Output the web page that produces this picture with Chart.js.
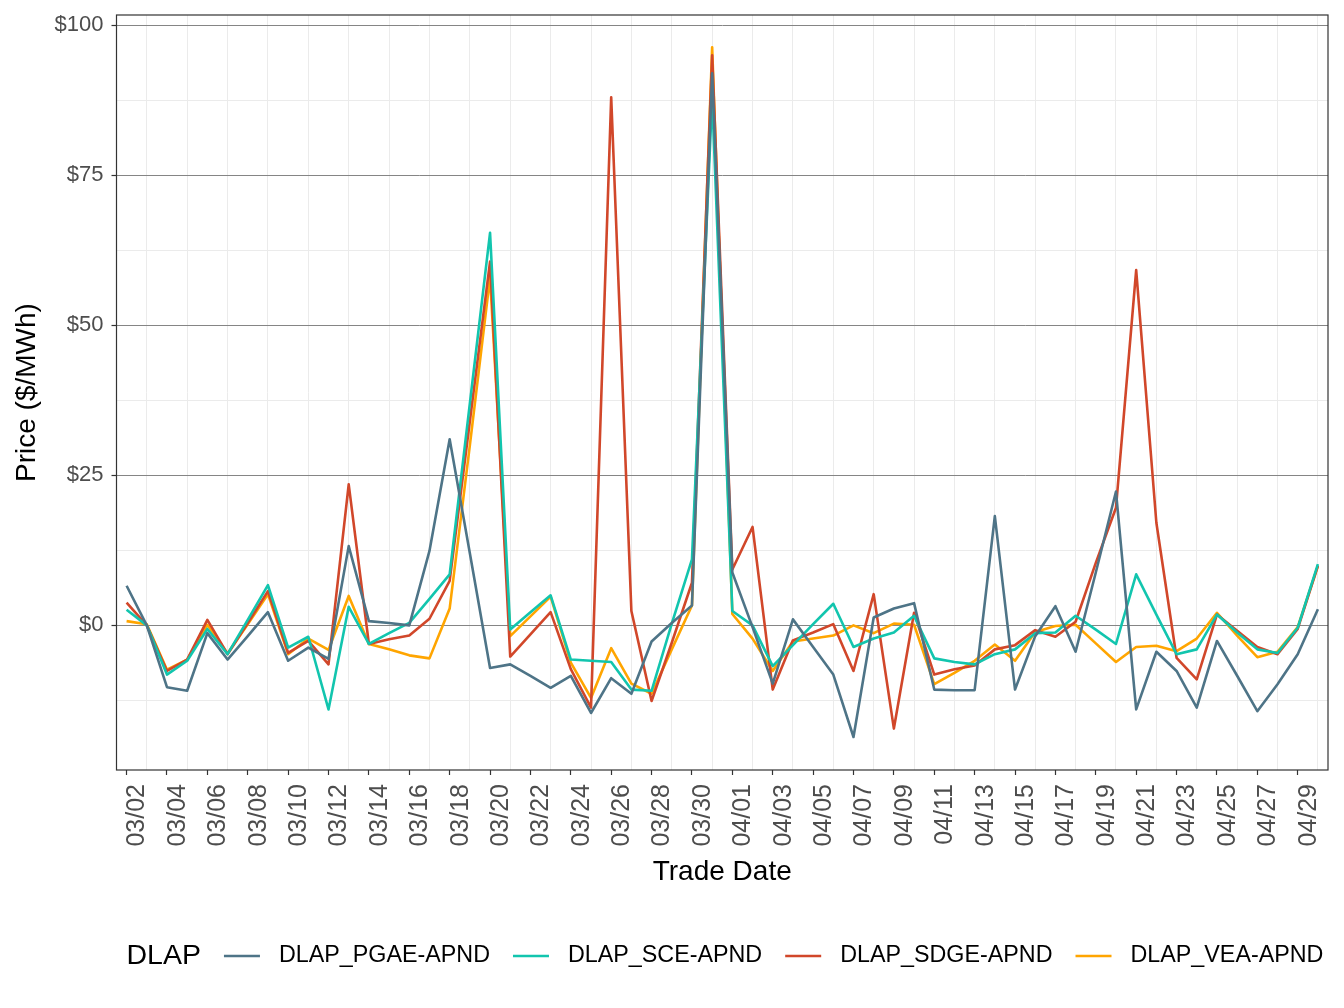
<!DOCTYPE html>
<html><head><meta charset="utf-8">
<script src="https://cdn.jsdelivr.net/npm/chart.js@4.4.1/dist/chart.umd.min.js"></script>
<style>html,body{margin:0;padding:0;background:#fff;}#wrap{width:1344px;height:1008px;}</style>
</head><body><div id="wrap"><canvas id="c" width="1344" height="1008"></canvas></div>
<script>
const dates = ['03/02','03/03','03/04','03/05','03/06','03/07','03/08','03/09','03/10','03/11','03/12','03/13','03/14','03/15','03/16','03/17','03/18','03/19','03/20','03/21','03/22','03/23','03/24','03/25','03/26','03/27','03/28','03/29','03/30','03/31',
'04/01','04/02','04/03','04/04','04/05','04/06','04/07','04/08','04/09','04/10','04/11','04/12','04/13','04/14','04/15','04/16','04/17','04/18','04/19','04/20','04/21','04/22','04/23','04/24','04/25','04/26','04/27','04/28','04/29','04/30'];
const seriesNames = ['DLAP_PGAE-APND','DLAP_SCE-APND','DLAP_SDGE-APND','DLAP_VEA-APND'];
const pgae = [6.6,0,-10.3,-10.9,-1.3,-5.7,-1.8,2.2,-5.9,-3.7,-5.6,13.2,0.7,0.4,0,12.4,31,12,-7.1,-6.5,-8.4,-10.4,-8.4,-14.6,-8.8,-11.4,-2.7,0.4,3.3,92,
8.8,-0.3,-9.7,1.0,-3.6,-8.2,-18.6,1.3,2.8,3.7,-10.7,-10.8,-10.8,18.2,-10.7,-1.8,3.2,-4.4,8.8,22.3,-14,-4.4,-7.6,-13.7,-2.6,-8.4,-14.3,-9.8,-4.8,2.7];
const sce = [2.6,0,-8.2,-5.9,-0.6,-4.8,0.9,6.7,-3.7,-1.9,-14,3.1,-3.1,-1.3,0.4,4.4,8.5,37,65.4,-0.7,2.2,5.0,-5.7,-5.9,-6.1,-10.7,-10.9,0.3,11,88,
2.4,0,-6.8,-3.3,0.2,3.6,-3.6,-2.2,-1.2,1.6,-5.5,-6.1,-6.5,-4.8,-4.0,-1.3,-1.2,1.6,-0.7,-3.1,8.5,1.8,-4.8,-4.0,1.8,-1.2,-4.0,-4.6,-0.4,10.2];
const sdge = [3.8,0,-7.6,-5.7,0.9,-4.8,0.4,5.7,-4.6,-2.6,-6.5,23.5,-3.1,-2.3,-1.7,1.1,7.4,34,60.6,-5.2,-1.5,2.2,-7.3,-13.7,88,2.4,-12.6,-2.9,7.1,95,
9.3,16.4,-10.7,-2.5,-1.2,0.2,-7.6,5.2,-17.2,2.1,-8.2,-7.3,-6.7,-4.0,-3.3,-0.8,-1.9,0.6,10.4,19.6,59.2,17.1,-5.4,-9.0,1.8,-0.9,-3.6,-4.8,-0.6,9.9];
const vea = [0.7,0.2,-7.4,-5.7,0.1,-4.7,0.2,5.2,-4.8,-2.2,-4.1,4.9,-3.1,-4.0,-5.0,-5.5,2.8,30,58,-1.8,1.5,4.8,-6.2,-12.1,-3.8,-9.7,-11.4,-4,3.3,96.3,
1.9,-2.2,-7.6,-2.7,-2.2,-1.7,0,-1.3,0.3,0.1,-9.8,-7.9,-5.9,-3.2,-5.9,-1.1,-0.1,0.1,-3,-6.1,-3.6,-3.4,-4.3,-2.2,2.1,-1.7,-5.3,-4.4,-0.3,9.9];
const yTickValues = [0,25,50,75,100];
const yTickLabels = ['$0','$25','$50','$75','$100'];
const yMinorValues = [-12.5,12.5,37.5,62.5,87.5];

const colors = ['#4e7487','#12c5ae','#d1472a','#ffa500'];
const seriesValues = [pgae, sce, sdge, vea];
const FONT = "'Liberation Sans', Arial, Helvetica, sans-serif";
Chart.defaults.font.family = FONT;

const datasets = seriesNames.map((n, k) => ({
  label: n,
  data: seriesValues[k].map((v, i) => ({x: i, y: v})),
  borderColor: colors[k],
  backgroundColor: colors[k],
  borderWidth: 2.6,
  pointRadius: 0,
  tension: 0,
  borderJoinStyle: 'round',
  fill: false
}));

const framePlugin = {
  id: 'frame',
  afterDatasetsDraw(chart) {
    const {ctx, chartArea: a} = chart;
    ctx.save();
    ctx.strokeStyle = '#333333';
    ctx.lineWidth = 1.2;
    ctx.strokeRect(a.left, a.top, a.right - a.left, a.bottom - a.top);
    ctx.restore();
  },
  afterDraw(chart) {
    const {ctx, chartArea: a} = chart;
    const y = 956;
    ctx.save();
    ctx.textBaseline = 'middle';
    ctx.fillStyle = '#000';
    ctx.font = '28.5px ' + FONT;
    let x = a.left + 10;
    ctx.fillText('DLAP', x, y);
    x += ctx.measureText('DLAP').width + 23;
    ctx.font = '23.3px ' + FONT;
    chart.data.datasets.forEach(ds => {
      ctx.strokeStyle = ds.borderColor;
      ctx.lineWidth = 2.6;
      ctx.beginPath();
      ctx.moveTo(x, y);
      ctx.lineTo(x + 36, y);
      ctx.stroke();
      x += 36 + 19;
      ctx.fillStyle = '#000';
      ctx.fillText(ds.label, x, y);
      x += ctx.measureText(ds.label).width + 23;
    });
    ctx.restore();
  }
};

new Chart(document.getElementById('c'), {
  type: 'line',
  data: {datasets},
  options: {
    responsive: false,
    animation: false,
    devicePixelRatio: 1,
    layout: {padding: {top: 15, right: 16, bottom: 119, left: 0}},
    plugins: {legend: {display: false}, tooltip: {enabled: false}},
    scales: {
      x: {
        type: 'linear',
        min: -0.5, max: 59.5,
        afterBuildTicks: s => { s.ticks = dates.map((d, i) => ({value: i})); },
        afterFit: s => { s.height = 119; s.paddingLeft = 0; s.paddingRight = 0; },
        border: {display: false},
        grid: {
          color: c => (c.tick && c.tick.value % 2 === 1) ? '#ebebeb' : 'rgba(0,0,0,0)',
          tickColor: c => (c.tick && c.tick.value % 2 === 0) ? '#333333' : 'rgba(0,0,0,0)',
          lineWidth: 1,
          tickWidth: 1.2,
          tickLength: 5
        },
        ticks: {
          autoSkip: false,
          minRotation: 90, maxRotation: 90,
          padding: 9,
          color: '#4d4d4d',
          font: {size: 25, lineHeight: 1.0},
          labelOffset: 11,
          callback: v => (v % 2 === 0) ? dates[v] : ''
        },
        title: {display: true, text: 'Trade Date', color: '#000', font: {size: 28}, padding: {top: 0, bottom: 0}}
      },
      y: {
        min: -24.1, max: 101.7,
        afterBuildTicks: s => { s.ticks = yMinorValues.concat(yTickValues).sort((a,b)=>a-b).map(v => ({value: v})); },
        afterFit: s => { s.width = 116.5; s.paddingTop = 0; s.paddingBottom = 0; },
        border: {display: false},
        grid: {
          color: c => (c.tick && yTickValues.includes(c.tick.value)) ? '#858585' : '#ebebeb',
          tickColor: c => (c.tick && yTickValues.includes(c.tick.value)) ? '#333333' : 'rgba(0,0,0,0)',
          lineWidth: 1,
          tickWidth: 1.2,
          tickLength: 5
        },
        ticks: {
          autoSkip: false,
          padding: 8,
          color: '#4d4d4d',
          font: {size: 22},
          callback: v => { const k = yTickValues.indexOf(v); return k >= 0 ? yTickLabels[k] : ''; }
        },
        title: {display: true, text: 'Price ($/MWh)', color: '#000', font: {size: 28}, padding: {top: 10, bottom: 0}}
      }
    }
  },
  plugins: [framePlugin]
});
</script></body></html>
